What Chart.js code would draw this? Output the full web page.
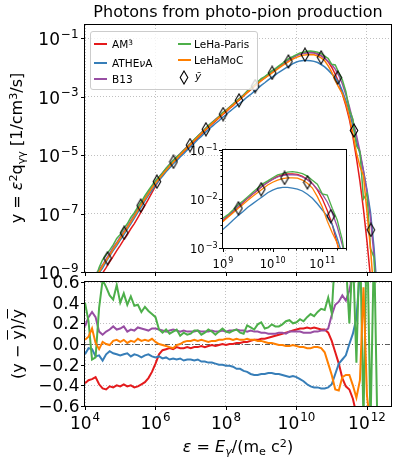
<!DOCTYPE html>
<html>
<head>
<meta charset="utf-8">
<script src="https://cdn.jsdelivr.net/npm/chart.js@4.4.1/dist/chart.umd.min.js"></script>
<style>
  body { margin: 0; background: #fff; }
  #wrap { position: relative; width: 398px; height: 470px; font-family: "DejaVu Sans", sans-serif; color: #000; overflow: hidden; }
  canvas { position: absolute; left: 0; top: 0; }
  .lbl { position: absolute; white-space: nowrap; line-height: 1; transform: translate(-50%, -50%); }
  .rot { transform: translate(-50%, -50%) rotate(-90deg); }
  .sup { font-size: 70%; position: relative; top: -0.45em; }
  .sub { font-size: 70%; position: relative; top: 0.25em; }
  .ov { text-decoration: overline; }
  #legend { position: absolute; left: 90px; top: 31px; width: 166px; height: 57px; border: 1px solid #cccccc; border-radius: 3px; background: rgba(255,255,255,0.8); }
  .item { position: absolute; font-size: 10.5px; line-height: 1; white-space: nowrap; }
  .swatch { position: absolute; width: 13px; height: 1.5px; }
</style>
</head>
<body>
<div id="wrap">
  <canvas id="top" width="398" height="470"></canvas>
  <canvas id="bottom" width="398" height="470"></canvas>
  <canvas id="inset" width="398" height="470"></canvas>

  <div id="legend"></div>
  <div class="swatch" style="left:94px;top:43px;background:#e41a1c"></div>
  <div class="item" style="left:112px;top:39px">AM<span class="sup">3</span></div>
  <div class="swatch" style="left:94px;top:62px;background:#377eb8"></div>
  <div class="item" style="left:112px;top:58px">ATHE<i>ν</i>A</div>
  <div class="swatch" style="left:94px;top:78px;background:#984ea3"></div>
  <div class="item" style="left:112px;top:74px">B13</div>
  <div class="swatch" style="left:178px;top:43px;background:#4daf4a"></div>
  <div class="item" style="left:194px;top:39px">LeHa-Paris</div>
  <div class="swatch" style="left:178px;top:59px;background:#ff7f00"></div>
  <div class="item" style="left:194px;top:55px">LeHaMoC</div>
  <svg style="position:absolute;left:179px;top:70px" width="10" height="15"><polygon points="5,1 8.8,7.5 5,14 1.2,7.5" fill="none" stroke="#000" stroke-width="1.1"/></svg>
  <div class="item" style="left:195px;top:71px"><i>ȳ</i></div>

  <div class="lbl" style="left:238px;top:12px;font-size:16px">Photons from photo-pion production</div>
  <div class="lbl rot" style="left:17px;top:148px;font-size:16px">y = <i>ε</i><span class="sup">2</span>q<span class="sub">γγ</span> [1/cm<span class="sup">3</span>/s]</div>
  <div class="lbl rot" style="left:18px;top:344px;font-size:16px">(y − <span class="ov">y</span>)/<span class="ov">y</span></div>
  <div class="lbl" style="left:238px;top:447px;font-size:16px"><i>ε</i> = <i>E</i><span class="sub"><i>γ</i></span>/(m<span class="sub">e</span> c<span class="sup">2</span>)</div>
</div>
<script>
// photon energy grid, log10(E/(me c^2))
const logE = [
  4.0, 4.1, 4.2, 4.3, 4.4, 4.5, 4.6, 4.7, 4.8, 4.9,
  5.0, 5.1, 5.2, 5.3, 5.4, 5.5, 5.6, 5.7, 5.8, 5.9,
  6.0, 6.1, 6.2, 6.3, 6.4, 6.5, 6.6, 6.7, 6.8, 6.9,
  7.0, 7.1, 7.2, 7.3, 7.4, 7.5, 7.6, 7.7, 7.8, 7.9,
  8.0, 8.1, 8.2, 8.3, 8.4, 8.5, 8.6, 8.7, 8.8, 8.9,
  9.0, 9.1, 9.2, 9.3, 9.4, 9.5, 9.6, 9.7, 9.8, 9.9,
  10.0, 10.1, 10.2, 10.3, 10.4, 10.5, 10.6, 10.7, 10.8, 10.9,
  11.0, 11.1, 11.2, 11.3, 11.4, 11.5, 11.6, 11.7, 11.8, 11.9,
  12.0, 12.1, 12.2, 12.3
]
// mean spectrum, log10(ybar)
const ybarLog = [
  -9.73, -9.54, -9.35, -9.16, -8.98, -8.79, -8.60, -8.42, -8.23, -8.05,
  -7.86, -7.68, -7.49, -7.30, -7.11, -6.91, -6.71, -6.52, -6.33, -6.15,
  -5.97, -5.81, -5.66, -5.51, -5.37, -5.24, -5.12, -5.00, -4.88, -4.76,
  -4.64, -4.52, -4.40, -4.28, -4.16, -4.05, -3.94, -3.83, -3.73, -3.62,
  -3.52, -3.41, -3.31, -3.20, -3.10, -2.99, -2.88, -2.78, -2.67, -2.57,
  -2.47, -2.38, -2.29, -2.20, -2.11, -2.02, -1.94, -1.86, -1.78, -1.71,
  -1.65, -1.60, -1.57, -1.55, -1.55, -1.56, -1.60, -1.66, -1.74, -1.86,
  -2.01, -2.20, -2.43, -2.73, -3.08, -3.53, -4.05, -4.60, -5.20, -5.90,
  -6.65, -7.50, -8.80, -10.50
]
// relative deviation (y - ybar)/ybar of each code
const resAM3 = [
  -0.38, -0.35, -0.34, -0.32, -0.39, -0.43, -0.44, -0.41, -0.42, -0.40,
  -0.41, -0.39, -0.41, -0.40, -0.42, -0.41, -0.39, -0.37, -0.33, -0.27,
  -0.19, -0.10, -0.06, -0.05, -0.04, -0.05, -0.03, -0.04, -0.04, -0.03,
  -0.04, -0.03, -0.03, -0.02, -0.03, -0.02, -0.01, -0.02, -0.01, 0.00,
  -0.01, 0.00, 0.00, 0.01, 0.01, 0.02, 0.02, 0.03, 0.04, 0.04,
  0.05, 0.05, 0.06, 0.07, 0.08, 0.09, 0.10, 0.11, 0.12, 0.13,
  0.14, 0.15, 0.15, 0.16, 0.15, 0.16, 0.15, 0.14, 0.14, 0.11,
  0.03, -0.08, -0.19, -0.33, -0.41, -0.44, -0.53, -0.68, -0.80, -0.89,
  -0.95, -0.98, -0.99, -0.995
]
const resATHEvA = [
  -0.10, -0.04, -0.05, -0.12, -0.11, -0.16, -0.10, -0.07, -0.09, -0.10,
  -0.11, -0.10, -0.09, -0.12, -0.10, -0.11, -0.13, -0.11, -0.10, -0.12,
  -0.13, -0.12, -0.14, -0.13, -0.15, -0.14, -0.15, -0.14, -0.16, -0.15,
  -0.15, -0.16, -0.15, -0.17, -0.17, -0.18, -0.18, -0.19, -0.20, -0.20,
  -0.21, -0.21, -0.22, -0.24, -0.24, -0.26, -0.27, -0.29, -0.30, -0.30,
  -0.29, -0.29, -0.28, -0.28, -0.29, -0.29, -0.30, -0.31, -0.32, -0.31,
  -0.32, -0.34, -0.36, -0.39, -0.41, -0.42, -0.42, -0.43, -0.43, -0.42,
  -0.39, -0.29, -0.19, -0.15, -0.11, 0.00, 0.10, 0.25, 0.70, 1.30,
  1.90, 2.50, 3.20, 3.60
]
const resB13 = [
  0.17, 0.26, 0.31, 0.26, 0.12, 0.09, 0.12, 0.14, 0.17, 0.14,
  0.15, 0.17, 0.12, 0.14, 0.13, 0.16, 0.15, 0.14, 0.13, 0.15,
  0.15, 0.14, 0.13, 0.12, 0.13, 0.14, 0.13, 0.12, 0.13, 0.12,
  0.12, 0.12, 0.13, 0.12, 0.12, 0.12, 0.13, 0.12, 0.12, 0.13,
  0.12, 0.13, 0.13, 0.14, 0.13, 0.13, 0.12, 0.13, 0.12, 0.12,
  0.11, 0.11, 0.10, 0.10, 0.10, 0.11, 0.11, 0.10, 0.12, 0.12,
  0.12, 0.12, 0.11, 0.11, 0.11, 0.12, 0.12, 0.13, 0.13, 0.15,
  0.28, 0.38, 0.41, 0.47, 0.42, 0.52, 0.68, 0.90, 1.10, 1.30,
  1.40, 1.30, 1.20, 1.10
]
const resLeHaParis = [
  0.40, 0.22, -0.15, -0.13, 0.35, 0.62, 0.55, 0.47, 0.43, 0.57,
  0.40, 0.49, 0.38, 0.46, 0.37, 0.38, 0.31, 0.36, 0.32, 0.29,
  0.26, 0.14, 0.11, 0.14, 0.10, 0.12, 0.14, 0.08, 0.11, 0.09,
  0.10, 0.13, 0.13, 0.09, 0.11, 0.14, 0.12, 0.09, 0.12, 0.15,
  0.12, 0.11, 0.13, 0.14, 0.11, 0.10, 0.18, 0.16, 0.14, 0.19,
  0.21, 0.15, 0.16, 0.19, 0.17, 0.17, 0.19, 0.22, 0.23, 0.20,
  0.21, 0.24, 0.22, 0.26, 0.29, 0.27, 0.31, 0.34, 0.33, 0.45,
  0.30, 0.90, 0.75, 1.00, 0.80, 0.20, 0.90, -0.18, 1.10, -0.75,
  1.20, -0.80, 1.00, -0.90
]
const resLeHaMoC = [
  0.04, 0.07, 0.15, 0.01, -0.05, 0.02, 0.00, -0.01, 0.03, 0.04,
  0.02, 0.04, 0.01, 0.03, 0.02, 0.05, 0.03, 0.04, 0.03, 0.05,
  0.02, 0.00, -0.01, -0.02, -0.03, -0.04, -0.01, 0.00, 0.02, 0.03,
  0.03, 0.04, 0.03, 0.04, 0.03, 0.02, 0.03, 0.03, 0.04, 0.04,
  0.05, 0.05, 0.04, 0.05, 0.04, 0.04, 0.05, 0.04, 0.04, 0.03,
  0.03, 0.02, 0.01, 0.01, 0.00, -0.01, -0.01, -0.02, -0.02, -0.01,
  -0.02, -0.03, -0.03, -0.04, -0.04, -0.03, -0.03, -0.04, -0.08, -0.19,
  -0.30, -0.44, -0.45, -0.32, -0.30, -0.30, -0.40, -0.52, -0.35, 0.55,
  -0.50, -0.80, -0.90, -0.95
]
// diamonds: mean spectrum at sample energies
const diamondE = [4.64, 5.11, 5.58, 6.04, 6.51, 6.98, 7.43, 7.92, 8.37, 8.83, 9.31, 9.77, 10.24, 10.70, 11.17, 11.63, 12.11]
const diamondLog = [-8.53, -7.66, -6.73, -5.91, -5.23, -4.66, -4.12, -3.60, -3.13, -2.64, -2.19, -1.80, -1.57, -1.66, -2.35, -4.16, -7.56]

// axis ticks
const xTicks = [1e4, 1e6, 1e8, 1e10, 1e12]
const yTicks = [1e-9, 1e-7, 1e-5, 1e-3, 1e-1]
const resTicks = [-0.6, -0.4, -0.2, 0, 0.2, 0.4, 0.6]
const insetXTicks = [1e9, 1e10, 1e11]
const insetXMinor = [2e9, 3e9, 4e9, 5e9, 6e9, 7e9, 8e9, 9e9, 2e10, 3e10, 4e10, 5e10, 6e10, 7e10, 8e10, 9e10, 2e11, 3e11]
const insetYTicks = [1e-3, 1e-2, 1e-1]
const insetYMinor = [2e-3, 3e-3, 4e-3, 5e-3, 6e-3, 7e-3, 8e-3, 9e-3, 2e-2, 3e-2, 4e-2, 5e-2, 6e-2, 7e-2, 8e-2, 9e-2]

const series = [
  { label: 'AM3', res: resAM3, color: '#e41a1c', order: 5 },
  { label: 'ATHEvA', res: resATHEvA, color: '#377eb8', order: 4 },
  { label: 'B13', res: resB13, color: '#984ea3', order: 3 },
  { label: 'LeHa-Paris', res: resLeHaParis, color: '#4daf4a', order: 2 },
  { label: 'LeHaMoC', res: resLeHaMoC, color: '#ff7f00', order: 1 }
]

const E = logE.map(l => 10 ** l)
const ybar = ybarLog.map(l => 10 ** l)

const diamondImg = document.createElement('canvas')
diamondImg.width = 10
diamondImg.height = 15
const dc = diamondImg.getContext('2d')
dc.strokeStyle = '#000'
dc.lineWidth = 1.1
dc.beginPath()
dc.moveTo(5, 1)
dc.lineTo(8.8, 7.5)
dc.lineTo(5, 14)
dc.lineTo(1.2, 7.5)
dc.closePath()
dc.stroke()

function spectrumSets(width) {
  const sets = series.map(s => ({
    label: s.label,
    data: E.map((x, i) => ({ x, y: ybar[i] * (1 + s.res[i]) })),
    borderColor: s.color,
    borderWidth: width,
    pointRadius: 0,
    fill: false,
    order: s.order
  }))
  sets.push({
    label: 'ybar',
    data: diamondE.map((l, i) => ({ x: 10 ** l, y: 10 ** diamondLog[i] })),
    showLine: false,
    pointStyle: diamondImg,
    pointRadius: 6,
    order: 0
  })
  return sets
}

function residualSets() {
  return series.map(s => ({
    label: s.label,
    data: E.map((x, i) => ({ x, y: s.res[i] })),
    borderColor: s.color,
    borderWidth: 2,
    pointRadius: 0,
    fill: false,
    order: s.order
  }))
}

function drawLog(ctx, v, x, y, size, align) {
  const ex = Math.round(Math.log10(v))
  const sup = ex < 0 ? '\u2212' + (-ex) : String(ex)
  const f1 = size + 'px "DejaVu Sans"'
  const f2 = (size * 0.7) + 'px "DejaVu Sans"'
  ctx.font = f1
  const w1 = ctx.measureText('10').width
  ctx.font = f2
  const w2 = ctx.measureText(sup).width
  const w = w1 + w2 + 1
  const x0 = align === 'center' ? x - w / 2 : x - w
  ctx.font = f1
  ctx.fillText('10', x0, y)
  ctx.font = f2
  ctx.fillText(sup, x0 + w1 + 1, y - size * 0.42)
}

function drawLin(ctx, v, x, y, size, align) {
  const t = v.toFixed(1).replace('-', '\u2212')
  ctx.font = size + 'px "DejaVu Sans"'
  const w = ctx.measureText(t).width
  ctx.fillText(t, align === 'center' ? x - w / 2 : x - w, y)
}

const sciAxes = {
  id: 'sciAxes',
  beforeDraw(chart, args, o) {
    if (!o.background) return
    const a = chart.chartArea
    const ctx = chart.ctx
    ctx.save()
    ctx.fillStyle = o.background
    ctx.fillRect(a.left, a.top, a.right - a.left, a.bottom - a.top)
    ctx.restore()
  },
  beforeDatasetsDraw(chart, args, o) {
    if (!o.zeroLine) return
    const a = chart.chartArea
    const ctx = chart.ctx
    const y = Math.round(chart.scales.y.getPixelForValue(0)) + 0.5
    ctx.save()
    ctx.strokeStyle = '#3a3a3a'
    ctx.lineWidth = 0.8
    ctx.setLineDash([5, 2, 1, 2])
    ctx.beginPath()
    ctx.moveTo(a.left, y)
    ctx.lineTo(a.right, y)
    ctx.stroke()
    ctx.restore()
  },
  afterDraw(chart, args, o) {
    const a = chart.chartArea
    const ctx = chart.ctx
    const xs = chart.scales.x
    const ys = chart.scales.y
    const L = Math.round(a.left) - 0.5
    const T = Math.round(a.top) - 0.5
    const R = Math.round(a.right) + 0.5
    const B = Math.round(a.bottom) + 0.5
    ctx.save()
    ctx.strokeStyle = '#000'
    ctx.fillStyle = '#000'
    ctx.lineWidth = 1
    ctx.strokeRect(L, T, R - L, B - T)
    ctx.beginPath()
    o.x.major.forEach(v => {
      const p = Math.round(xs.getPixelForValue(v)) + 0.5
      ctx.moveTo(p, B); ctx.lineTo(p, B + 3.5)
    })
    ;(o.x.minor || []).forEach(v => {
      const p = Math.round(xs.getPixelForValue(v)) + 0.5
      ctx.moveTo(p, B); ctx.lineTo(p, B + 2)
    })
    o.y.major.forEach(v => {
      const p = Math.round(ys.getPixelForValue(v)) + 0.5
      ctx.moveTo(L, p); ctx.lineTo(L - 3.5, p)
    })
    ;(o.y.minor || []).forEach(v => {
      const p = Math.round(ys.getPixelForValue(v)) + 0.5
      ctx.moveTo(L, p); ctx.lineTo(L - 2, p)
    })
    ctx.stroke()
    ctx.textBaseline = 'alphabetic'
    ctx.textAlign = 'left'
    if (o.x.labels) {
      const fn = o.x.labels === 'log' ? drawLog : drawLin
      o.x.major.forEach(v => fn(ctx, v, xs.getPixelForValue(v), B + o.x.base, o.x.size, 'center'))
    }
    if (o.y.labels) {
      const fn = o.y.labels === 'log' ? drawLog : drawLin
      o.y.major.forEach(v => fn(ctx, v, L - o.y.pad, ys.getPixelForValue(v) + o.y.base, o.y.size, 'right'))
    }
    ctx.restore()
  }
}

function axis(type, min, max, ticks, horizontal) {
  return {
    type,
    min,
    max,
    afterFit: s => { if (horizontal) s.height = 0; else s.width = 0 },
    afterBuildTicks: s => { s.ticks = ticks.map(v => ({ value: v })) },
    ticks: { display: false },
    grid: { drawTicks: false, color: '#b0b0b0', lineWidth: 0.8 },
    border: { display: false, dash: [1, 2] }
  }
}

function baseOptions(padding) {
  return {
    responsive: false,
    animation: false,
    devicePixelRatio: 1,
    events: [],
    layout: { padding },
    plugins: { legend: { display: false }, tooltip: { enabled: false } }
  }
}

// main panel
const topOpts = baseOptions({ left: 85, top: 25, right: 7, bottom: 198 })
topOpts.scales = { x: axis('logarithmic', 1e4, 4.8e12, xTicks, true), y: axis('logarithmic', 1e-9, 0.28, yTicks, false) }
topOpts.plugins.sciAxes = {
  x: { major: xTicks, labels: null },
  y: { major: yTicks, labels: 'log', size: 17, pad: 6, base: 7 }
}
new Chart(document.getElementById('top'), {
  type: 'line',
  data: { datasets: spectrumSets(1.5) },
  options: topOpts,
  plugins: [sciAxes]
})

// residual panel
const botOpts = baseOptions({ left: 85, top: 282, right: 7, bottom: 64 })
botOpts.scales = { x: axis('logarithmic', 1e4, 4.8e12, xTicks, true), y: axis('linear', -0.6, 0.6, resTicks, false) }
botOpts.plugins.sciAxes = {
  zeroLine: true,
  x: { major: xTicks, labels: 'log', size: 17, base: 22 },
  y: { major: resTicks, labels: 'lin', size: 17, pad: 5, base: 6 }
}
new Chart(document.getElementById('bottom'), {
  type: 'line',
  data: { datasets: residualSets() },
  options: botOpts,
  plugins: [sciAxes]
})

// inset around the peak
const insOpts = baseOptions({ left: 223, top: 150, right: 52, bottom: 222 })
insOpts.scales = { x: axis('logarithmic', 1e9, 3e11, insetXTicks, true), y: axis('logarithmic', 1e-3, 1e-1, insetYTicks, false) }
insOpts.scales.x.grid.display = false
insOpts.scales.y.grid.display = false
insOpts.plugins.sciAxes = {
  background: '#ffffff',
  x: { major: insetXTicks, minor: insetXMinor, labels: 'log', size: 11.5, base: 19 },
  y: { major: insetYTicks, minor: insetYMinor, labels: 'log', size: 11.5, pad: 5, base: 4.5 }
}
new Chart(document.getElementById('inset'), {
  type: 'line',
  data: { datasets: spectrumSets(1.3) },
  options: insOpts,
  plugins: [sciAxes]
})
</script>
</body>
</html>
